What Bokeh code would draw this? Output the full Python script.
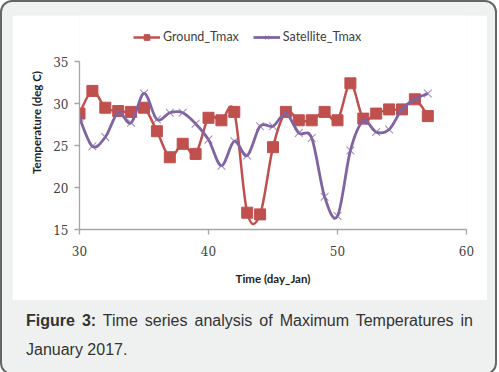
import numpy as np
from bokeh.plotting import figure
from bokeh.models import Range1d, FixedTicker, Legend, LegendItem, Div
from bokeh.layouts import column
from bokeh.embed import file_html
from bokeh.resources import INLINE

# ---- data ----
days = list(range(30, 58))
ground_tmax = [28.8, 31.5, 29.5, 29.1, 29.0, 29.5, 26.7, 23.6, 25.2, 24.0,
               28.3, 28.0, 29.0, 17.0, 16.8, 24.8, 29.0, 28.0, 28.0, 29.0,
               28.0, 32.4, 28.2, 28.8, 29.3, 29.3, 30.5, 28.5]
satellite_tmax = [28.3, 24.9, 26.0, 28.9, 27.7, 31.2, 28.1, 28.9, 28.9, 27.6,
                  25.7, 22.6, 25.5, 23.8, 27.3, 27.3, 28.8, 26.5, 25.9, 18.9,
                  16.6, 24.4, 27.9, 26.6, 26.9, 29.3, 30.5, 31.2]
x_ticks = [30, 40, 50, 60]
y_ticks = [15, 20, 25, 30, 35]
x_min, x_max = 30, 60
y_min, y_max = 15, 35

RED = "#C0504D"
PURPLE = "#8064A2"
AXIS_GREY = "#a6a6a6"

# frame: 168 px for 15..35 plus 46 px of headroom that holds the legend;
# the y axis itself is bounded to 15..35
FIG_W, FIG_H = 475, 285
BORDER_L, BORDER_R, BORDER_B = 67, 21, 71
AXIS_PX = 168
HEAD_PX = FIG_H - BORDER_B - AXIS_PX
y_top = y_max + HEAD_PX * (y_max - y_min) / AXIS_PX


def bezier_segments(xs, ys):
    """Control points of a smoothed (Catmull-Rom style) curve through the data."""
    x = np.asarray(xs, float)
    y = np.asarray(ys, float)
    n = len(x)
    xp = np.concatenate([[x[0]], x, [x[-1]]])
    yp = np.concatenate([[y[0]], y, [y[-1]]])
    return dict(
        x0=x[:-1], y0=y[:-1], x1=x[1:], y1=y[1:],
        cx0=x[:-1] + (xp[2:n + 1] - xp[0:n - 1]) / 6.0,
        cy0=y[:-1] + (yp[2:n + 1] - yp[0:n - 1]) / 6.0,
        cx1=x[1:] - (xp[3:n + 2] - xp[1:n]) / 6.0,
        cy1=y[1:] - (yp[3:n + 2] - yp[1:n]) / 6.0,
    )


p = figure(width=FIG_W, height=FIG_H,
           x_range=Range1d(x_min, x_max), y_range=Range1d(y_min, y_top),
           output_backend="svg", toolbar_location=None,
           min_border_left=BORDER_L, min_border_right=BORDER_R,
           min_border_top=0, min_border_bottom=BORDER_B,
           background_fill_color="white", border_fill_color="white",
           outline_line_color=None)
p.grid.visible = False

# series
g_bz = p.bezier(line_color=RED, line_width=2.5, **bezier_segments(days, ground_tmax))
g_sc = p.scatter(days, ground_tmax, marker="square", size=11,
                 fill_color=RED, line_color=RED)
s_bz = p.bezier(line_color=PURPLE, line_width=2.8, **bezier_segments(days, satellite_tmax))
s_sc = p.scatter(days, satellite_tmax, marker="x", size=11,
                 line_color=PURPLE, line_alpha=0.7, line_width=1.1)

frame_h = FIG_H - BORDER_B
legend = Legend(items=[LegendItem(label="Ground_Tmax", renderers=[g_bz, g_sc]),
                       LegendItem(label="Satellite_Tmax", renderers=[s_bz, s_sc])],
                orientation="horizontal", location=(54, frame_h - 29),
                border_line_color=None, background_fill_alpha=0,
                label_text_font="Lato", label_text_font_size="12.5px",
                label_text_color="#404040",
                glyph_width=27, glyph_height=14, label_height=14,
                spacing=14, label_standoff=3, padding=4, margin=0)
p.add_layout(legend, "center")

# axes
for ax in (p.xaxis[0], p.yaxis[0]):
    ax.axis_line_color = AXIS_GREY
    ax.axis_line_width = 1.3
    ax.major_tick_line_color = AXIS_GREY
    ax.major_tick_line_width = 1.3
    ax.minor_tick_line_color = None
    ax.major_tick_in = 0
    ax.major_tick_out = 5
    ax.major_label_text_font = "DejaVu Serif"
    ax.major_label_text_font_size = "12px"
    ax.major_label_text_color = "#404040"
    ax.axis_label_text_font = "Lato"
    ax.axis_label_text_font_style = "bold"
    ax.axis_label_text_font_size = "11.5px"
    ax.axis_label_text_color = "#222222"

p.yaxis.bounds = (y_min, y_max)
p.xaxis.ticker = FixedTicker(ticks=x_ticks)
p.yaxis.ticker = FixedTicker(ticks=y_ticks)
p.xaxis.axis_label = "Time (day_Jan)"
p.yaxis.axis_label = "Temperature (deg C)"
p.xaxis.major_label_standoff = 11
p.xaxis.axis_label_standoff = 13
p.yaxis.major_label_standoff = 6
p.yaxis.axis_label_standoff = 7

caption = Div(
    text=('<div style="font-family: \'Liberation Sans\', Arial, sans-serif; '
          'font-size:16px; line-height:29px; color:#333333; text-align:justify; '
          'width:447px;"><b>Figure 3:</b> Time series analysis of Maximum '
          'Temperatures in January 2017.</div>'),
    width=449, height=62,
    styles={"margin-left": "14px", "margin-top": "6px"})

layout = column(p, caption,
                styles={"background-color": "#eff1f0",
                        "border": "2px solid #666666",
                        "border-radius": "12px",
                        "padding": "13px 8px 0px 10px"})

open("out.html", "w").write(file_html(layout, INLINE))
